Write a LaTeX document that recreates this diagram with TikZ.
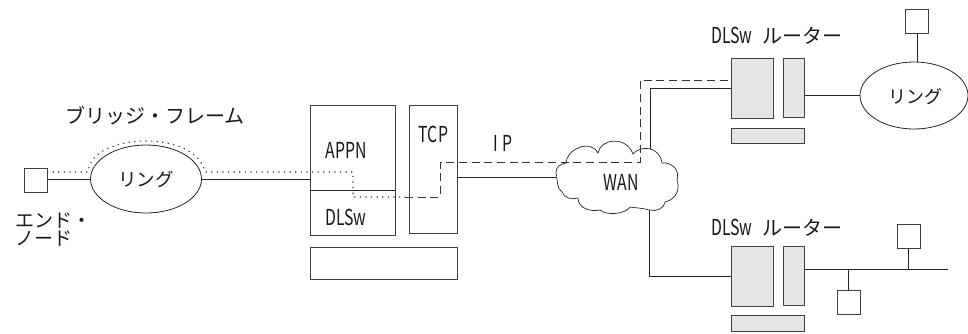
\documentclass[tikz,border=0pt]{standalone}
\usepackage{fontspec}
\setmainfont{Noto Sans CJK JP}
\newfontfamily\narrowfont[FakeStretch=0.72]{Noto Sans CJK JP}
\usetikzlibrary{positioning,shapes.geometric}
\definecolor{routergray}{HTML}{E4E5E6}
\newcommand{\routertitle}{\narrowfont\fontsize{22}{22}\selectfont DLSw\hspace{10pt}\normalfont\fontsize{20}{22}\selectfont ルーター}
\tikzset{
  box/.style={draw=black!75,line width=.9pt,inner sep=0pt},
  hostbox/.style={box,minimum width=23pt,minimum height=24pt},
  routerbox/.style={box,fill=routergray},
  ringnode/.style={draw=black!85,line width=.8pt,inner sep=0pt},
  link/.style={line width=.9pt,black!85},
  bridgeline/.style={line width=1.1pt,black!80,dash pattern=on 1.2pt off 4.4pt},
  tunnelline/.style={line width=.9pt,black!80,dash pattern=on 8pt off 4.7pt},
  jptext/.style={font=\fontsize{20}{18}\selectfont,inner sep=0pt,black!90},
  lattext/.style={font=\narrowfont\fontsize{22}{22}\selectfont,inner sep=0pt,black!90}
}
\begin{document}
\begin{tikzpicture}[x=1pt,y=-1pt]
\useasboundingbox (0,0) rectangle (968,333);
% left side
\node[hostbox,anchor=north west] (endnode) at (24,168) {};
\node[ringnode,ellipse,minimum width=111pt,minimum height=68pt] (ringa) at (146,179) {};
\node[jptext] (bridgelabel) at (155,116) {ブリッジ・フレーム};
\node[jptext,font=\fontsize{19}{18}\selectfont,align=left,anchor=north west] (endlabel) at (15,213) {エンド・\\ノード};
\node[jptext] (ringalabel) at (146,179) {\fontsize{18.5}{18}\selectfont リング};
% central node
\node[box,minimum width=85pt,minimum height=129.5pt,anchor=north west] (appn) at (309.5,105) {};
\node[box,minimum width=48pt,minimum height=128pt,anchor=north west] (tcp) at (409,105) {};
\node[box,minimum width=147.5pt,minimum height=32pt,anchor=north west] (base) at (309.5,247) {};
\coordinate (splitl) at (309.5,190);
\coordinate (splitr) at (394.5,190);
\draw[link] (splitl) -- (splitr);
\node[lattext] (appnlabel) at (346,150) {APPN};
\node[lattext] (dlswlabel) at (346,217) {DLSw};
\node[lattext] (tcplabel) at (433.5,134) {TCP};
\node[lattext] (iplabel) at (503,143) {I\hspace{5pt}P};
% cloud
\coordinate (cloudw) at (556,177);
\coordinate (cloudn) at (650,149);
\coordinate (clouds) at (649.5,210);
\draw[link,line width=.7pt] (556,173)
  .. controls (556,166) and (561,164) .. (566,163)
  .. controls (566,150) and (590,138) .. (598,153)
  .. controls (600,139) and (626,135) .. (633,154)
  .. controls (640,145) and (660,146) .. (662,163)
  .. controls (672,162) and (680,170) .. (677,180)
  .. controls (680,189) and (677,199) .. (665,202)
  .. controls (665,208) and (656,212) .. (649.5,210)
  .. controls (643,208) and (636,208) .. (630,207)
  .. controls (626,214) and (606,216) .. (600,210)
  .. controls (592,212) and (578,209) .. (578,198)
  .. controls (572,200) and (564,198) .. (562,192)
  .. controls (556,188) and (558,180) .. (556,173) -- cycle;
\node[lattext] (wanlabel) at (621,182) {WAN};
% upper router
\node[routerbox,minimum width=42pt,minimum height=60pt,anchor=north west] (ruamain) at (731,58) {};
\node[routerbox,minimum width=21pt,minimum height=59pt,anchor=north west] (ruaside) at (783,58) {};
\node[routerbox,minimum width=73pt,minimum height=15.5pt,anchor=north west] (ruabase) at (731,127.5) {};
\node[anchor=west,inner sep=0pt,black!90] (ruatitle) at (711,36) {\routertitle};
\node[ringnode,ellipse,minimum width=108pt,minimum height=67pt] (ringb) at (914,95.5) {};
\node[jptext] (ringblabel) at (915,97) {\fontsize{18}{18}\selectfont リング};
\node[hostbox,anchor=north west] (hosta) at (905,9) {};
% lower router
\node[routerbox,minimum width=42pt,minimum height=60pt,anchor=north west] (rlbmain) at (731,245.7) {};
\node[routerbox,minimum width=21pt,minimum height=59.5pt,anchor=north west] (rlbside) at (783,245.7) {};
\node[routerbox,minimum width=73pt,minimum height=16pt,anchor=north west] (rlbbase) at (731,315) {};
\node[anchor=west,inner sep=0pt,black!90] (rlbtitle) at (711,228) {\routertitle};
\node[hostbox,anchor=north west] (hostb) at (836.5,290) {};
\node[hostbox,anchor=north west] (hostc) at (896.5,224) {};
% links
\draw[link] (endnode.east |- ringa.west) -- (ringa.west);
\draw[link] (ringa.east) -- (appn.west |- ringa.east);
\draw[link] (tcp.east |- cloudw) -- (cloudw);
\draw[link] (cloudn) |- (ruamain.west);
\draw[link] (ruaside.east |- ringb.west) -- (ringb.west);
\draw[link] (hosta.south) -- (hosta.south |- ringb.north);
\draw[link] (clouds) |- (rlbmain.west);
\coordinate (busend) at (947.5,269.7);
\draw[link] (rlbside.east |- busend) -- (busend);
\draw[link] (hostb.north) -- (hostb.north |- busend);
\draw[link] (hostc.south) -- (hostc.south |- busend);
% paths
\coordinate (hand) at (405,197);
\draw[bridgeline] (47,172) -- (88,172) .. controls (90,150) and (120,141) .. (146,141)
  .. controls (172,141) and (200,150) .. (205,172) -- (353,172) -- (353,197) -- (hand);
\draw[tunnelline] (hand) -- (440,197) -- (440,162) -- (640,162) -- (640,80) -- (ruamain.west |- 0,80);
\end{tikzpicture}
\end{document}
